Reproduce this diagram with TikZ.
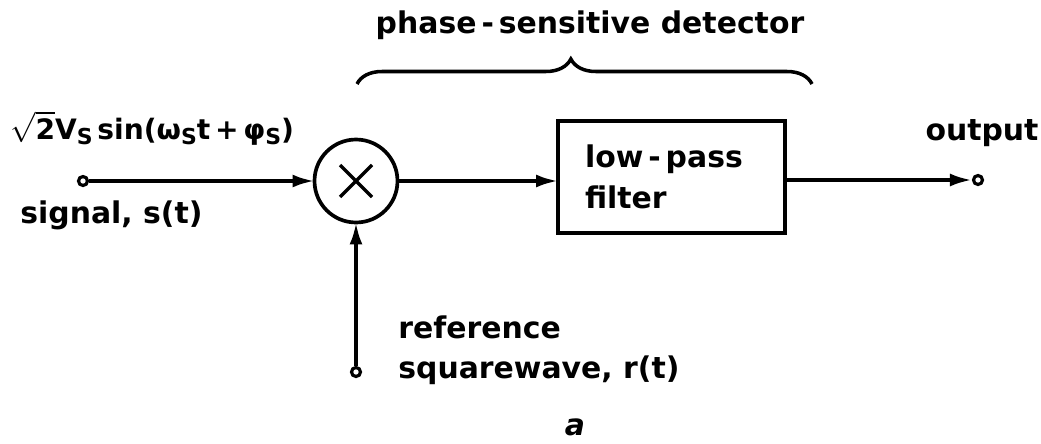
\documentclass[tikz,border=0pt]{standalone}
\usepackage{fontspec}
\setmainfont{DejaVu Sans}
\usetikzlibrary{arrows.meta,decorations.pathreplacing}
\newcommand{\subS}{\raisebox{-0.35ex}{\fontsize{12.5}{13}\selectfont S}}
\begin{document}
\begin{tikzpicture}[x=0.02cm,y=-0.02cm,
  lbl/.style={font=\fontsize{17}{23}\selectfont\bfseries, inner sep=0pt},
  wire/.style={line width=2.1pt},
  arr/.style={wire,-{Latex[length=0.44cm,width=0.26cm]}},
  term/.style={circle,draw,line width=1.8pt,minimum size=0.18cm,inner sep=0pt},
  ]
\useasboundingbox (0,0) rectangle (1041,443);
% multiplier
\node[circle,draw,line width=2.1pt,minimum size=1.66cm,inner sep=0pt,outer sep=0pt] (mul) at (356,181) {};
\draw[line width=2pt] (mul.center) +(-16,-16) -- +(16,16)
      (mul.center) +(-16,16) -- +(16,-16);
% low-pass filter
\node[draw,line width=2.1pt,minimum width=4.54cm,minimum height=2.24cm,outer sep=0pt,
      text width=3.46cm,align=left,inner xsep=0.54cm,lbl,inner ysep=0pt] (lpf) at (671.5,177) {low\,-\,pass\\filter};
% terminals
\node[term] (sig) at (83,181) {};
\node[term] (ref) at (356,372) {};
\node[term] (out) at (978,180) {};
% connectors
\draw[arr] (sig) -- (mul);
\draw[arr] (ref) -- (mul);
\draw[arr] (mul) -- (lpf.west |- mul);
\draw[arr] (lpf.east |- out) -- (out);
% brace
\coordinate (bl) at (357,84);
\coordinate (br) at (812,84);
\draw[line width=2pt,decorate,decoration={brace,amplitude=0.5cm,aspect=0.47}] (bl) -- (br);
% labels
\node[lbl] (title) at (590,25) {phase\,-\,sensitive detector};
\node[lbl,anchor=west,font=\fontsize{16}{20}\selectfont\bfseries] (siglbl) at (10,128) {$\sqrt{\mbox{2}}$V\subS\,sin(ω\subS t\,+\,φ\subS)};
\node[lbl,anchor=west] (signame) at (20,215) {signal, s(t)};
\node[lbl,anchor=west,align=left] (reflbl) at (398,350) {reference\\squarewave, r(t)};
\node[lbl] (outlbl) at (982,133) {output};
\node[lbl] (sub) at (575,427) {\itshape a};
\end{tikzpicture}
\end{document}
